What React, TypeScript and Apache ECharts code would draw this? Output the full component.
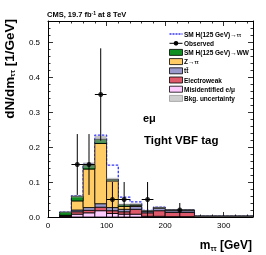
import React, { useEffect, useRef } from "react";
import * as echarts from "echarts";

// Bin edges (GeV)
const binLo = [20, 40, 60, 80, 100, 120, 140, 160, 180, 200, 250];
const binHi = [40, 60, 80, 100, 120, 140, 160, 180, 200, 250, 350];

// Stacked backgrounds, dN/dm [1/GeV] (bottom to top)
const misid = [0.001, 0.008, 0.012, 0.018, 0.010, 0.008, 0.008, 0.002, 0.002, 0.001, 0.0005];
const ewk = [0.002, 0.007, 0.007, 0.010, 0.008, 0.007, 0.014, 0.010, 0.016, 0.012, 0.001];
const ttbar = [0.001, 0.005, 0.008, 0.010, 0.009, 0.007, 0.008, 0.004, 0.007, 0.005, 0.0005];
const ztt = [0.001, 0.026, 0.110, 0.172, 0.076, 0.008, 0.003, 0.001, 0.001, 0.001, 0.0];
const hww = [0.009, 0.013, 0.011, 0.012, 0.004, 0.005, 0.003, 0.001, 0.001, 0.0, 0.0];
// Background uncertainty (half width)
const bkgUnc = [0.002, 0.004, 0.008, 0.010, 0.005, 0.003, 0.003, 0.002, 0.003, 0.002, 0.001];
// Signal SM H(125)->tautau stacked on top
const htt = [0.0, 0.002, 0.003, 0.012, 0.041, 0.022, 0.007, 0.001, 0.001, 0.0, 0.0];

// Observed data
const obsX = [50, 70, 90, 110, 130, 170, 225];
const obsY = [0.15, 0.15, 0.35, 0.05, 0.05, 0.05, 0.02];
const obsXErr = [10, 10, 10, 10, 10, 10, 25];
const obsYErrLo = [0.087, 0.087, 0.132, 0.05, 0.05, 0.05, 0.02];
const obsYErrHi = [0.087, 0.087, 0.132, 0.05, 0.05, 0.05, 0.02];

const yTicksMax = 0.56;
const xMax = 350;

const layers = [
  { name: "Misidentified e/μ", vals: misid, color: "#ffccff" },
  { name: "Electroweak", vals: ewk, color: "#de5a6a" },
  { name: "tt̄", vals: ttbar, color: "#9999cc" },
  { name: "Z→ττ", vals: ztt, color: "#ffcc66" },
  { name: "SM H(125 GeV)→WW", vals: hww, color: "#0f8f1f" },
];

export default function App() {
  const ref = useRef<HTMLDivElement>(null);
  useEffect(() => {
    if (!ref.current) return;
    const chart = echarts.init(ref.current, undefined, { renderer: "svg" });

    const base = binLo.map(() => 0);
    const series: any[] = [];
    layers.forEach((layer, li) => {
      const data = binLo.map((lo, i) => {
        const b = base[i];
        const t = b + layer.vals[i];
        base[i] = t;
        return [lo, binHi[i], b, t];
      });
      series.push({
        type: "custom",
        name: layer.name,
        z: 3 + li,
        renderItem: (params: any, api: any) => {
          const p1 = api.coord([api.value(0), api.value(3)]);
          const p2 = api.coord([api.value(1), api.value(2)]);
          return {
            type: "rect",
            shape: { x: p1[0], y: p1[1], width: p2[0] - p1[0], height: p2[1] - p1[1] },
            style: { fill: layer.color, stroke: "#000", lineWidth: 0.8 },
          };
        },
        encode: { x: [0, 1], y: [2, 3] },
        data,
      });
    });
    const total = base.slice();

    // Uncertainty band
    series.push({
      type: "custom",
      name: "Bkg. uncertainty",
      z: 10,
      renderItem: (params: any, api: any) => {
        const p1 = api.coord([api.value(0), api.value(3)]);
        const p2 = api.coord([api.value(1), api.value(2)]);
        return {
          type: "rect",
          shape: { x: p1[0], y: p1[1], width: p2[0] - p1[0], height: p2[1] - p1[1] },
          style: { fill: "rgba(150,150,150,0.55)" },
        };
      },
      encode: { x: [0, 1], y: [2, 3] },
      data: binLo.map((lo, i) => [lo, binHi[i], total[i] - bkgUnc[i], total[i] + bkgUnc[i]]),
    });

    // Signal outline (drawn beneath the background stack, as in a stacked plot)
    const sigPts: number[][] = [[binLo[0], 0]];
    binLo.forEach((lo, i) => {
      const v = total[i] + htt[i];
      sigPts.push([lo, v]);
      sigPts.push([binHi[i], v]);
    });
    series.push({
      type: "line",
      name: "SM H(125 GeV)→ττ",
      z: 2,
      symbol: "none",
      data: sigPts,
      lineStyle: { color: "#3333ff", width: 1.3, type: [2.5, 1.5] },
    });

    // Observed error bars
    series.push({
      type: "custom",
      name: "Observed",
      z: 12,
      renderItem: (params: any, api: any) => {
        const x = api.value(0), y = api.value(1);
        const pl = api.coord([x - api.value(2), y]);
        const pr = api.coord([x + api.value(2), y]);
        const pb = api.coord([x, y - api.value(3)]);
        const pt = api.coord([x, y + api.value(4)]);
        return {
          type: "group",
          children: [
            { type: "line", shape: { x1: pl[0], y1: pl[1], x2: pr[0], y2: pr[1] }, style: { stroke: "#000", lineWidth: 1 } },
            { type: "line", shape: { x1: pb[0], y1: pb[1], x2: pt[0], y2: pt[1] }, style: { stroke: "#000", lineWidth: 1 } },
          ],
        };
      },
      encode: { x: 0, y: 1 },
      data: obsX.map((x, i) => [x, obsY[i], obsXErr[i], obsYErrLo[i], obsYErrHi[i]]),
    });
    series.push({
      type: "scatter",
      name: "Observed pts",
      z: 13,
      symbol: "circle",
      symbolSize: 5,
      itemStyle: { color: "#000" },
      data: obsX.map((x, i) => [x, obsY[i]]),
    });

    const axisCommon = {
      axisLine: { show: true, onZero: false, lineStyle: { color: "#000", width: 1 } },
      axisTick: { show: true, inside: true, length: 5, lineStyle: { color: "#000", width: 0.8 } },
      minorTick: { show: true, splitNumber: 5, length: 2.5, lineStyle: { color: "#000", width: 0.8 } },
      splitLine: { show: false },
    };

    const fontFam = "Liberation Sans, Arial, Helvetica, sans-serif";
    const legendX = 169.5;
    const textX = 184;
    const rowY = [34, 43.3, 52.4, 61.6, 70.8, 80, 89.2, 98.4];
    const legendFont = { fontFamily: fontFam, fontWeight: "bold", fontSize: 6.5, fill: "#000" };
    const rich = {
      a: { fontFamily: fontFam, fontWeight: "bold", fontSize: 6.5, fill: "#000" },
      s: { fontFamily: fontFam, fontWeight: "bold", fontSize: 4.8, fill: "#000", padding: [2, 0, 0, 0] },
    };
    const graphic: any[] = [];
    const txt = (y: number, text: string) => ({
      type: "text",
      x: textX,
      y,
      z: 100,
      style: { text, ...legendFont, rich, verticalAlign: "middle", align: "left" },
    });
    // Row 1 signal
    graphic.push({ type: "line", shape: { x1: legendX, y1: rowY[0], x2: legendX + 13, y2: rowY[0] }, style: { stroke: "#3333ff", lineWidth: 1.3, lineDash: [2, 1] }, z: 100 });
    graphic.push(txt(rowY[0], "{a|SM H(125 GeV)→}{s|ττ}"));
    // Row 2 observed
    graphic.push({ type: "line", shape: { x1: legendX, y1: rowY[1], x2: legendX + 13, y2: rowY[1] }, style: { stroke: "#000", lineWidth: 1 }, z: 100 });
    graphic.push({ type: "circle", shape: { cx: legendX + 6.5, cy: rowY[1], r: 2.3 }, style: { fill: "#000" }, z: 100 });
    graphic.push(txt(rowY[1], "{a|Observed}"));
    const boxRows = [
      { c: "#0f8f1f", t: "{a|SM H(125 GeV)→WW}" },
      { c: "#ffcc66", t: "{a|Z→}{s|ττ}" },
      { c: "#9999cc", t: "{a|tt̄}" },
      { c: "#de5a6a", t: "{a|Electroweak}" },
      { c: "#ffccff", t: "{a|Misidentified e/μ}" },
      { c: "#cfcfcf", t: "{a|Bkg. uncertainty}" },
    ];
    boxRows.forEach((r, k) => {
      const y = rowY[k + 2];
      graphic.push({
        type: "rect",
        shape: { x: legendX, y: y - 3, width: 13, height: 6 },
        style: { fill: r.c, stroke: k === 5 ? "#999" : "#000", lineWidth: 0.8 },
        z: 100,
      });
      graphic.push(txt(y, r.t));
    });
    // Title & annotations
    graphic.push({
      type: "text", x: 47, y: 14.5, z: 100,
      style: {
        text: "{a|CMS, 19.7 fb}{p|-1}{a| at 8 TeV}",
        verticalAlign: "middle",
        rich: {
          a: { fontFamily: fontFam, fontWeight: "bold", fontSize: 7.5, fill: "#000" },
          p: { fontFamily: fontFam, fontWeight: "bold", fontSize: 5, fill: "#000", padding: [0, 0, 4, 0] },
        },
      },
    });
    graphic.push({
      type: "text", x: 143, y: 118, z: 100,
      style: { text: "eμ", fontFamily: fontFam, fontWeight: "bold", fontSize: 11, fill: "#000", verticalAlign: "middle" },
    });
    graphic.push({
      type: "text", x: 144, y: 140, z: 100,
      style: { text: "Tight VBF tag", fontFamily: fontFam, fontWeight: "bold", fontSize: 11.5, fill: "#000", verticalAlign: "middle" },
    });
    // Axis titles
    graphic.push({
      type: "text", x: 252, y: 245, z: 100,
      style: {
        text: "{a|m}{s|ττ}{a| [GeV]}",
        align: "right",
        verticalAlign: "middle",
        rich: {
          a: { fontFamily: fontFam, fontWeight: "bold", fontSize: 12, fill: "#000" },
          s: { fontFamily: fontFam, fontWeight: "bold", fontSize: 7, fill: "#000", padding: [6, 0, 0, 0] },
        },
      },
    });
    graphic.push({
      type: "text", x: 9.5, y: 19, z: 100, rotation: Math.PI / 2,
      style: {
        text: "{a|dN/dm}{s|ττ}{a| [1/GeV]}",
        align: "right",
        verticalAlign: "middle",
        rich: {
          a: { fontFamily: fontFam, fontWeight: "bold", fontSize: 13.5, fill: "#000" },
          s: { fontFamily: fontFam, fontWeight: "bold", fontSize: 7.5, fill: "#000", padding: [6, 0, 0, 0] },
        },
      },
    });

    chart.setOption({
      animation: false,
      grid: { left: 48, right: 13, top: 21, bottom: 38, containLabel: false },
      xAxis: [
        {
          type: "value", min: 0, max: xMax, interval: 100, position: "bottom",
          ...axisCommon,
          axisLabel: { show: true, margin: 4, fontSize: 8, color: "#000", fontFamily: fontFam, showMaxLabel: false },
        },
        {
          type: "value", min: 0, max: xMax, interval: 100, position: "top",
          ...axisCommon,
          axisLabel: { show: false },
        },
      ],
      yAxis: [
        {
          type: "value", min: 0, max: yTicksMax, interval: 0.1, position: "left",
          ...axisCommon,
          axisLabel: {
            show: true, margin: 8, fontSize: 8, color: "#000", fontFamily: fontFam, showMaxLabel: false,
            formatter: (v: number) => v.toFixed(1),
          },
        },
        {
          type: "value", min: 0, max: yTicksMax, interval: 0.1, position: "right",
          ...axisCommon,
          axisLabel: { show: false },
        },
      ],
      graphic,
      series,
    });
    return () => chart.dispose();
  }, []);
  return <div ref={ref} style={{ position: "fixed", left: 0, top: 0, width: 266, height: 255 }} />;
}
